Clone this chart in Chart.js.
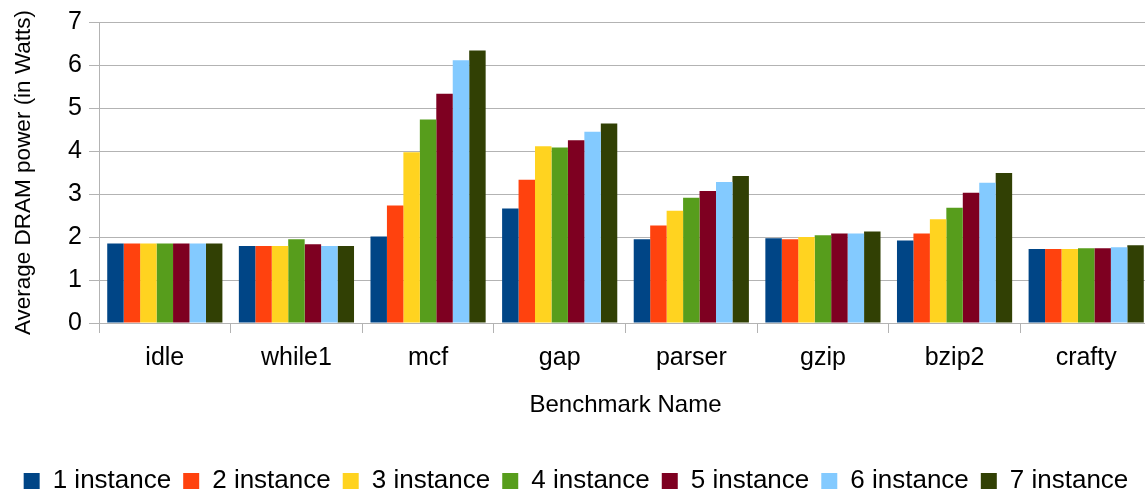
<!DOCTYPE html>
<html>
<head>
<meta charset="utf-8">
<script src="https://cdn.jsdelivr.net/npm/chart.js@4"></script>
<style>
  html, body { margin: 0; padding: 0; background: #fff; overflow: hidden; }
  #wrap { width: 1145px; height: 496px; overflow: hidden; }
</style>
</head>
<body>
<div id="wrap"><canvas id="chart" width="1152" height="504"></canvas></div>
<script>
const benchmarks = ["idle", "while1", "mcf", "gap", "parser", "gzip", "bzip2", "crafty"];
const seriesNames = ["1 instance", "2 instance", "3 instance", "4 instance", "5 instance", "6 instance", "7 instance"];
const seriesColors = ["#004586", "#ff420e", "#ffd320", "#579d1c", "#7e0021", "#83caff", "#314004"];

// one array per instance count, values per benchmark (Watts)
const inst1 = [1.85, 1.79, 2.01, 2.66, 1.95, 1.97, 1.92, 1.72];
const inst2 = [1.85, 1.79, 2.73, 3.33, 2.27, 1.95, 2.08, 1.72];
const inst3 = [1.85, 1.79, 3.97, 4.11, 2.61, 2.00, 2.41, 1.72];
const inst4 = [1.85, 1.95, 4.73, 4.08, 2.91, 2.04, 2.68, 1.74];
const inst5 = [1.85, 1.83, 5.33, 4.25, 3.07, 2.08, 3.03, 1.74];
const inst6 = [1.85, 1.79, 6.11, 4.45, 3.28, 2.08, 3.26, 1.76];
const inst7 = [1.85, 1.79, 6.34, 4.64, 3.42, 2.13, 3.49, 1.81];
const yTicks = [0, 1, 2, 3, 4, 5, 6, 7];

const allSeries = [inst1, inst2, inst3, inst4, inst5, inst6, inst7];
const font = "'Liberation Sans', Arial, sans-serif";
const grey = "#b3b3b3";

new Chart(document.getElementById("chart").getContext("2d"), {
  type: "bar",
  data: {
    labels: benchmarks,
    datasets: allSeries.map((values, i) => ({
      label: seriesNames[i],
      data: values,
      backgroundColor: seriesColors[i],
      borderWidth: 0,
      categoryPercentage: 0.875,
      barPercentage: 1.0,
    })),
  },
  options: {
    responsive: false,
    animation: false,
    layout: { padding: { top: -1, right: 0, left: 0, bottom: 0 } },
    plugins: {
      tooltip: { enabled: false },
      legend: {
        position: "bottom",
        labels: {
          color: "#000",
          font: { family: font, size: 26 },
          boxWidth: 16,
          boxHeight: 16,
          padding: 12,
        },
      },
    },
    scales: {
      y: {
        min: 0,
        max: 7,
        afterBuildTicks: (scale) => {
          scale.ticks = yTicks.map((v) => ({ value: v }));
        },
        afterFit: (scale) => { scale.width = 99; },
        grid: { color: grey, lineWidth: 1, tickLength: 10 },
        border: { color: grey },
        ticks: {
          color: "#000",
          font: { family: font, size: 25 },
          padding: 7,
        },
        title: {
          display: true,
          text: "Average DRAM power (in Watts)",
          color: "#000",
          font: { family: font, size: 22.5 },
          padding: { top: 10, bottom: 0 },
        },
      },
      x: {
        offset: true,
        afterFit: (scale) => { scale.height = 133; },
        grid: {
          offset: true,
          drawOnChartArea: false,
          color: grey,
          tickLength: 10,
        },
        border: { color: grey },
        ticks: {
          color: "#000",
          font: { family: font, size: 25 },
          padding: 10,
        },
        title: {
          display: true,
          text: "Benchmark Name",
          color: "#000",
          font: { family: font, size: 24 },
          padding: { top: 0, bottom: 36 },
        },
      },
    },
  },
});
</script>
</body>
</html>
